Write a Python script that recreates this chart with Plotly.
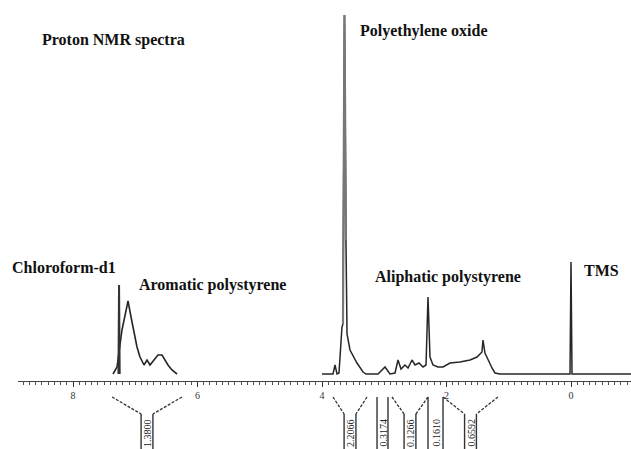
import plotly.graph_objects as go

# --- 1H NMR spectrum (ppm, relative intensity) ---
aro_ppm = [7.357, 7.293, 7.213, 7.165, 7.116, 7.068, 7.036, 6.972, 6.924, 6.859,
           6.811, 6.763, 6.699, 6.635, 6.570, 6.522, 6.474, 6.410, 6.329]
aro_int = [0, 7, 44, 57, 73, 57, 47, 27, 17, 9,
           14, 9, 14, 19, 19, 14, 9, 4, 0]

cdcl3_ppm = [7.27, 7.26, 7.25]
cdcl3_int = [0, 89, 0]

peo_ppm = [4.000, 3.823, 3.791, 3.759, 3.727, 3.695, 3.679, 3.663, 3.647, 3.639,
           3.615, 3.598, 3.550, 3.438, 3.341, 3.293]
peo_int = [0, 0, 9, 0, 1, 34, 47, 50, 359, 359,
           134, 40, 24, 11, 2, 0]

ali_ppm = [3.100, 2.988, 2.908, 2.827, 2.779, 2.731, 2.667, 2.618, 2.554, 2.506,
           2.442, 2.378, 2.329, 2.297, 2.265, 2.217, 2.137, 2.056, 1.944, 1.783,
           1.622, 1.510, 1.430, 1.414, 1.382, 1.333, 1.269, 1.221, 1.141, 0.050]
ali_int = [0, 7, 0, 1, 14, 5, 9, 6, 14, 9,
           11, 7, 9, 77, 17, 9, 7, 7, 11, 12,
           14, 17, 22, 34, 21, 14, 6, 1, 0, 0]

tms_ppm = [0.016, 0.0, -0.016, -0.964]
tms_int = [0, 112, 0, 0]

# --- integrals ---
integ_start = [7.373, 3.823, 3.116, 2.876, 2.297, 2.056]
integ_end = [6.249, 3.277, 2.940, 2.297, 2.056, 1.173]
integ_labels = ["1.3800", "2.2066", "0.3174", "0.1266", "0.1610", "0.6592"]

tick_vals = [8, 6, 4, 2, 0]

# --- peak assignments ---
label_text = ["Proton NMR spectra", "Polyethylene oxide", "Chloroform-d1",
              "Aromatic polystyrene", "Aliphatic polystyrene", "TMS"]

W, H = 631, 449
LINE = "#262626"
SERIF = "'Liberation Serif', 'Times New Roman', Times, serif"

fig = go.Figure()
fig.add_trace(go.Scatter(x=aro_ppm, y=aro_int, mode="lines",
                         line=dict(color=LINE, width=1.6), hoverinfo="skip"))
fig.add_trace(go.Scatter(x=cdcl3_ppm, y=cdcl3_int, mode="lines",
                         line=dict(color="#333", width=2), hoverinfo="skip"))
fig.add_trace(go.Scatter(x=peo_ppm + ali_ppm + tms_ppm,
                         y=peo_int + ali_int + tms_int, mode="lines",
                         line=dict(color=LINE, width=1.5), hoverinfo="skip"))
# the tall ethylene oxide singlet drawn in a softer grey
fig.add_trace(go.Scatter(x=peo_ppm[7:11], y=peo_int[7:11], mode="lines",
                         line=dict(color="#777", width=2.2), hoverinfo="skip"))

# integral brackets under the axis
shapes = []
annotations = []
top, knee, bottom = -23, -40, -80
half_box = 0.095
dash_style = "3px,1.5px"
for s, e, lab in zip(integ_start, integ_end, integ_labels):
    mid = (s + e) / 2
    if s - e > 0.3:
        bl, br = mid + half_box, mid - half_box
        shapes.append(dict(type="line", xref="x", yref="y", x0=s, y0=top, x1=bl, y1=knee,
                           line=dict(color="#333", width=1.3, dash=dash_style)))
        shapes.append(dict(type="line", xref="x", yref="y", x0=e, y0=top, x1=br, y1=knee,
                           line=dict(color="#333", width=1.3, dash=dash_style)))
        y_start = knee
    else:
        bl, br = s, e
        y_start = top
    for xv in (bl, br):
        shapes.append(dict(type="line", xref="x", yref="y", x0=xv, y0=y_start, x1=xv, y1=bottom,
                           line=dict(color="#333", width=1.4)))
    annotations.append(dict(x=mid, y=-59, xref="x", yref="y", text=lab, showarrow=False,
                            textangle=-90, font=dict(family=SERIF, size=10, color="#222")))

# peak labels (positions in paper fractions)
label_pos = [(40, 40), (358, 31), (10, 267), (137, 285), (373, 277), (582, 270)]
for txt, (px, py) in zip(label_text, label_pos):
    annotations.append(dict(x=px / W, y=(H - py) / H, xref="paper", yref="paper",
                            xanchor="left", yanchor="middle", text="<b>%s</b>" % txt,
                            showarrow=False,
                            font=dict(family=SERIF, size=16, color="#111")))

x_left_px, axis_px = 18, 381
ppm_per_px = 1 / 62.25
x_range = [(571 - x_left_px) * ppm_per_px, (571 - W) * ppm_per_px]

fig.update_layout(
    width=W, height=H,
    margin=dict(l=0, r=0, t=0, b=0),
    paper_bgcolor="white", plot_bgcolor="white",
    showlegend=False,
    shapes=shapes, annotations=annotations,
    font=dict(family=SERIF),
    xaxis=dict(domain=[x_left_px / W, 1], range=x_range, anchor="free",
               position=(H - axis_px) / H,
               showline=True, linecolor="#444", linewidth=1,
               showgrid=False, zeroline=False,
               tickmode="array", tickvals=tick_vals,
               ticks="outside", ticklen=5, tickwidth=1.3, tickcolor="#333",
               tickfont=dict(family=SERIF, size=10, color="#333"),
               minor=dict(dtick=0.1, ticks="outside", ticklen=3, tickwidth=1.2,
                          tickcolor="#555", showgrid=False)),
    yaxis=dict(range=[-75, 374], visible=False, showgrid=False, zeroline=False),
)

fig.write_html("out.html")
